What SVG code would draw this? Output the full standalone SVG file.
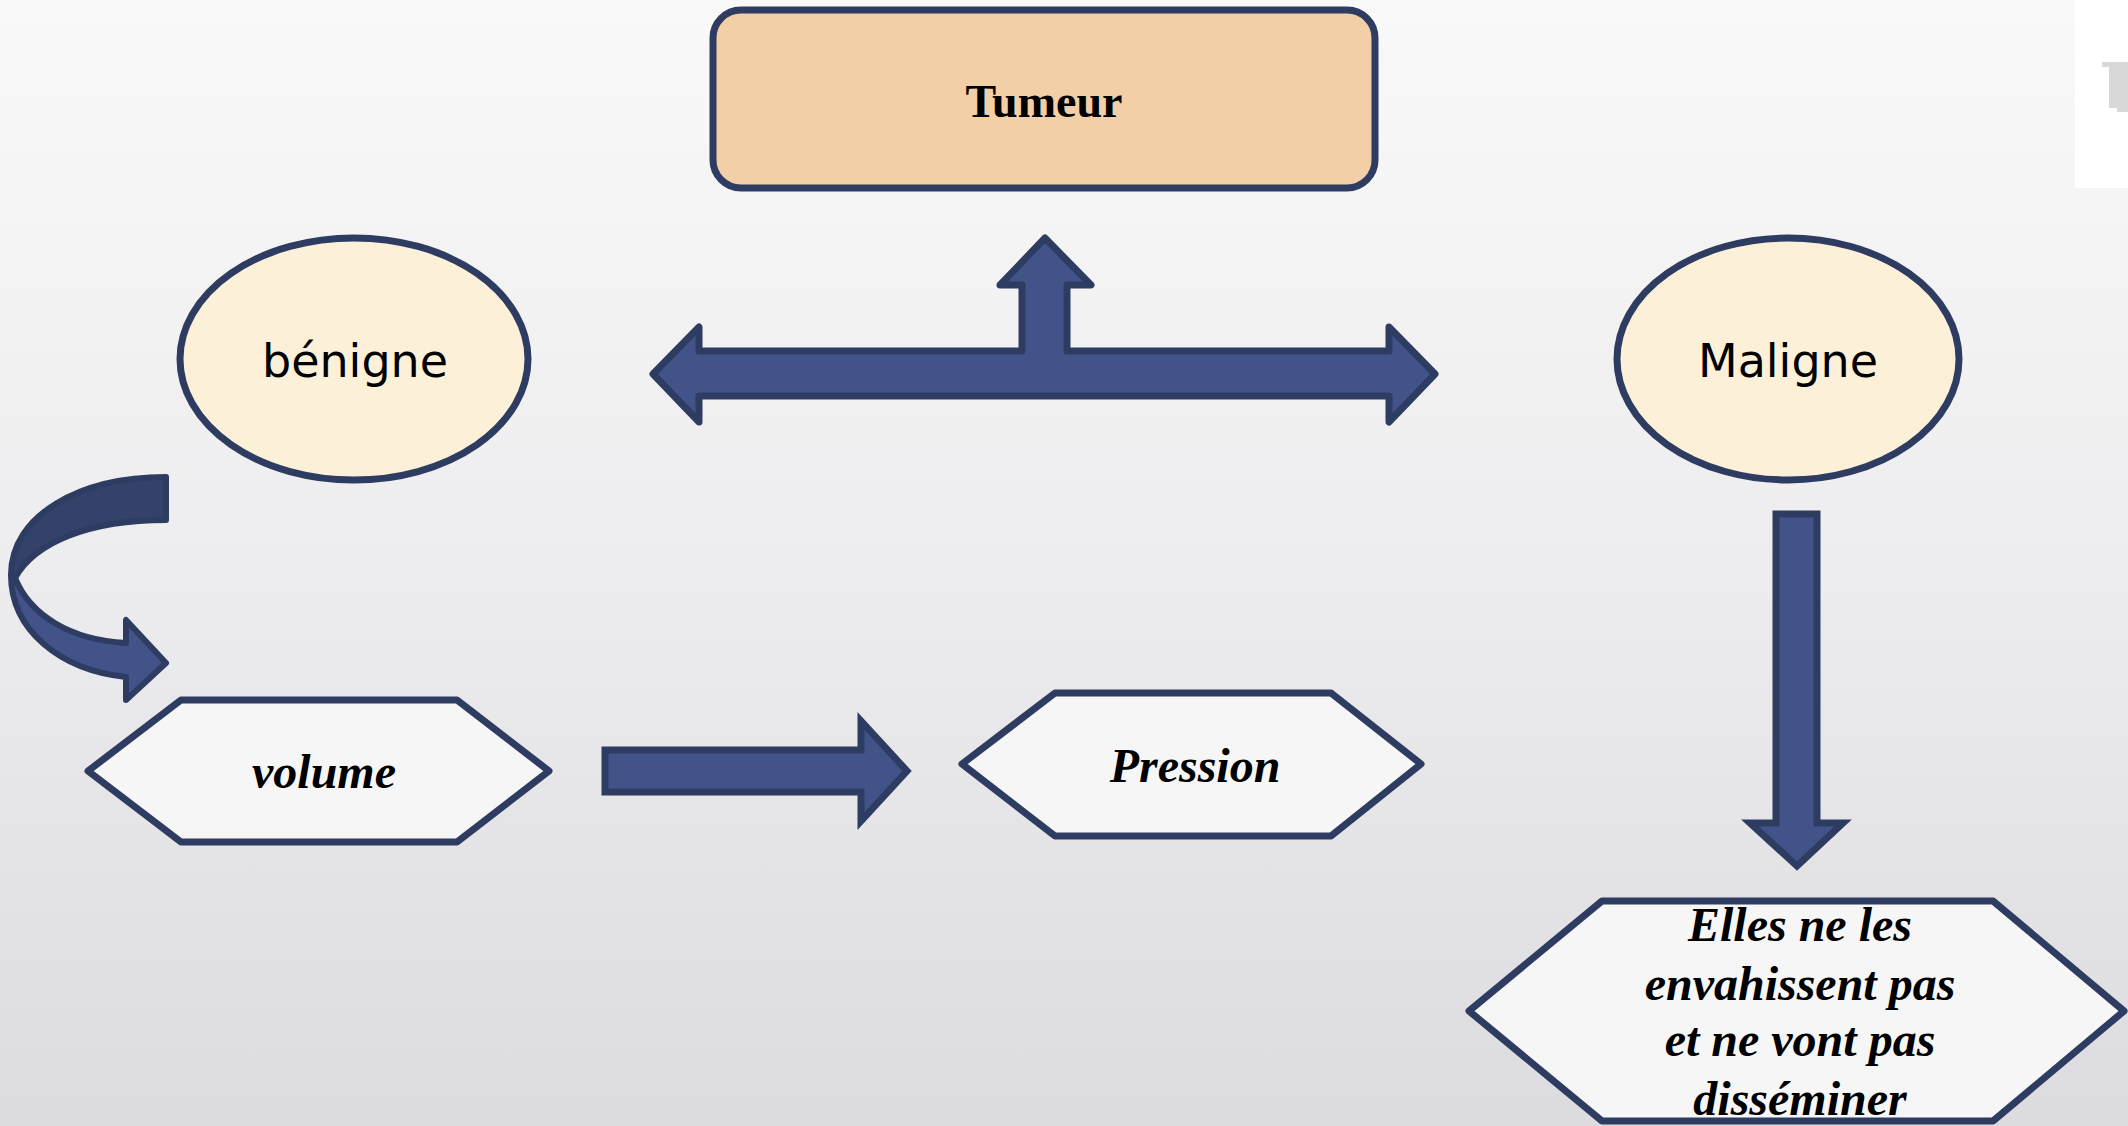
<svg xmlns="http://www.w3.org/2000/svg" width="2128" height="1126" viewBox="0 0 2128 1126">
<defs>
<linearGradient id="bg" x1="0" y1="0" x2="0" y2="1">
<stop offset="0" stop-color="#f9f9f9"/>
<stop offset="0.5" stop-color="#ededef"/>
<stop offset="1" stop-color="#dcdce0"/>
</linearGradient>
<style>
.arrow{fill:#42538a;stroke:#2e3c62;stroke-width:7;stroke-linejoin:round}
.arrowdark{fill:#34416a;stroke:#2e3c62;stroke-width:6;stroke-linejoin:round}
.ell{fill:#fcf1d8;stroke:#2e3c62;stroke-width:7}
.hex{fill:#f6f6f7;stroke:#2e3c62;stroke-width:7;stroke-linejoin:round}
.sans{font-family:"DejaVu Sans","Liberation Sans",sans-serif;font-size:46px;fill:#000;text-anchor:middle}
.bi{font-family:"Liberation Serif","Times New Roman",serif;font-weight:bold;font-style:italic;font-size:48px;fill:#000;text-anchor:middle}
</style>
</defs>
<rect x="0" y="0" width="2128" height="1126" fill="url(#bg)"/>
<rect x="2075" y="0" width="53" height="188" fill="#ffffff"/>
<polygon points="2102,62 2128,62 2128,112 2117,112 2117,108 2109,108 2109,67 2102,67" fill="#d8d8d8"/>

<g id="connectors">
<path class="arrow" d="M653,374 L699,327 L699,351 L1022,351 L1022,285 L1000,285 L1045,238 L1091,285 L1067,285 L1067,351 L1389,351 L1389,327 L1435,374 L1389,422 L1389,396 L699,396 L699,422 Z"/>
<path class="arrowdark" d="M166,477 L166,520 C90,520 35,542 15,578 L11,575 C11,515 80,477 166,477 Z"/>
<path class="arrow" style="stroke-width:6" d="M11,575 C11,630 60,670 126,677 L126,700 L166,663 L126,620 L126,643 C70,640 30,615 15,578 Z"/>
<path class="arrow" style="stroke-linejoin:miter" d="M605,750 L861,750 L861,721 L907,771 L861,821 L861,792 L605,792 Z"/>
<path class="arrow" style="stroke-linejoin:miter" d="M1776,514 L1817,514 L1817,823 L1843,823 L1797,866 L1750,823 L1776,823 Z"/>
</g>

<g id="tumeur">
<rect x="713" y="10" width="662" height="178" rx="28" ry="28" fill="#f2cfa6" stroke="#2e3c62" stroke-width="7"/>
<text x="1044" y="117" font-family="'Liberation Serif','Times New Roman',serif" font-weight="bold" font-size="46" text-anchor="middle" fill="#000">Tumeur</text>
</g>

<g id="benigne">
<ellipse class="ell" cx="354" cy="359" rx="174" ry="121"/>
<text class="sans" x="355" y="377">bénigne</text>
</g>

<g id="maligne">
<ellipse class="ell" cx="1788" cy="359" rx="171" ry="121"/>
<text class="sans" x="1788" y="377">Maligne</text>
</g>

<g id="volume">
<polygon class="hex" points="88,771 181,700 457,700 549,771 457,842 181,842"/>
<text class="bi" x="324" y="788">volume</text>
</g>

<g id="pression">
<polygon class="hex" points="962,764 1055,693 1331,693 1421,764 1331,836 1055,836"/>
<text class="bi" x="1195" y="782">Pression</text>
</g>

<g id="elles">
<polygon class="hex" points="1469,1011 1602,901 1993,901 2124,1011 1993,1121 1602,1121"/>
<text class="bi" x="1800" y="941">Elles ne les</text>
<text class="bi" x="1800" y="1000">envahissent pas</text>
<text class="bi" x="1800" y="1056">et ne vont pas</text>
<text class="bi" x="1800" y="1115">disséminer</text>
</g>
</svg>
